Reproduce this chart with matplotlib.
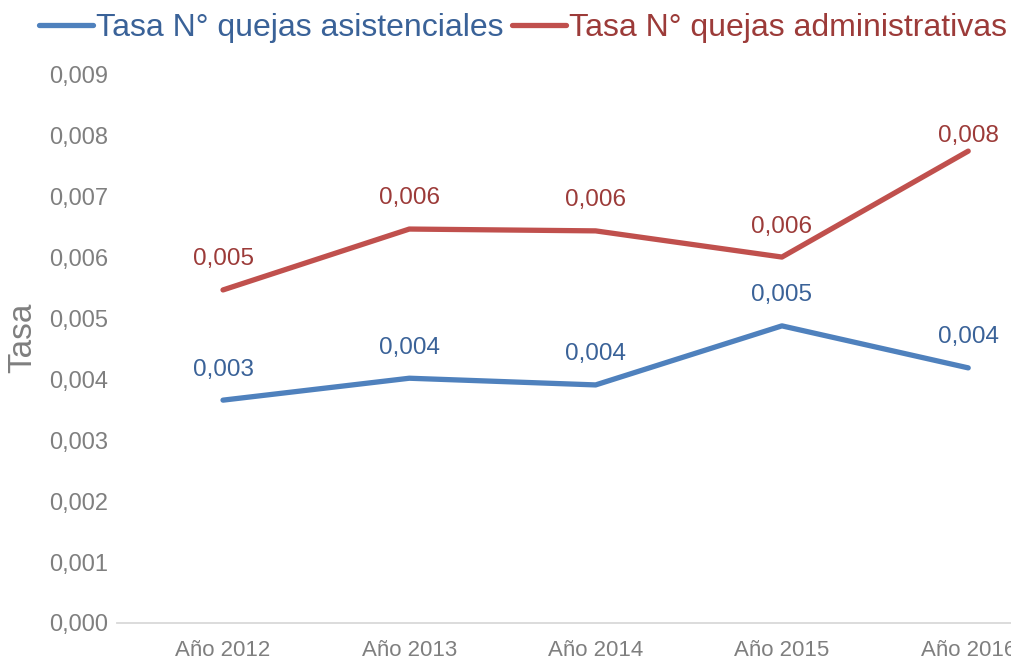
import matplotlib
matplotlib.use("Agg")
import matplotlib.pyplot as plt
from matplotlib import font_manager

# data
years = ['Año 2012', 'Año 2013', 'Año 2014', 'Año 2015', 'Año 2016']
asistenciales = [0.00366, 0.00402, 0.00391, 0.00488, 0.00419]
administrativas = [0.00547, 0.00647, 0.00644, 0.00601, 0.00775]
lab_asist = ['0,003', '0,004', '0,004', '0,005', '0,004']
lab_admin = ['0,005', '0,006', '0,006', '0,006', '0,008']
yticks = [0.000, 0.001, 0.002, 0.003, 0.004, 0.005, 0.006, 0.007, 0.008, 0.009]

names = [f.name for f in font_manager.fontManager.ttflist]
base = 'Liberation Sans' if 'Liberation Sans' in names else 'DejaVu Sans'
plt.rcParams['font.family'] = [base, 'DejaVu Sans']

blue = '#4F81BD'
red = '#C0504D'
blue_txt = '#3A6298'
red_txt = '#9C3B39'
grey = '#7F7F7F'

fig = plt.figure(figsize=(10.12, 6.62), dpi=100)
ax = fig.add_axes([117/1012, 1-623/662, 1-117/1012, 548/662])

x = list(range(len(years)))
ax.plot(x, asistenciales, color=blue, lw=3.8, solid_capstyle='round',
        solid_joinstyle='round', label='Tasa N° quejas asistenciales', clip_on=False)
ax.plot(x, administrativas, color=red, lw=3.8, solid_capstyle='round',
        solid_joinstyle='round', label='Tasa N° quejas administrativas', clip_on=False)

for i in x:
    ax.annotate(lab_asist[i], (i, asistenciales[i]), xytext=(0, 22), textcoords='offset points',
                ha='center', va='center', fontsize=17.5, color=blue_txt)
    off = 11 if i == len(x) - 1 else 22
    ax.annotate(lab_admin[i], (i, administrativas[i]), xytext=(0, off), textcoords='offset points',
                ha='center', va='center', fontsize=17.5, color=red_txt)

ax.set_xlim(-0.569, 4.235)
ax.set_ylim(0, 0.009)
ax.set_xticks(x)
ax.set_xticklabels(years, fontsize=16, color=grey)
ax.set_yticks(yticks)
ax.set_yticklabels([('%.3f' % v).replace('.', ',') for v in yticks], fontsize=17, color=grey)
ax.tick_params(axis='both', length=0)
ax.tick_params(axis='x', pad=12)
ax.tick_params(axis='y', pad=6.5)
ax.set_ylabel('Tasa', fontsize=24, color=grey)
ax.yaxis.set_label_coords(-0.088, 0.52)

for s in ['top', 'right', 'left']:
    ax.spines[s].set_visible(False)
ax.spines['bottom'].set_color('#D9D9D9')
ax.spines['bottom'].set_linewidth(1.3)

fig.legend(loc='center', bbox_to_anchor=(0.517, 0.958), ncol=2, frameon=False,
           fontsize=23, handlelength=1.7, handletextpad=0.1, columnspacing=0.25,
           borderpad=0, labelcolor=[blue_txt, red_txt])

fig.savefig('out.png', dpi=100)
